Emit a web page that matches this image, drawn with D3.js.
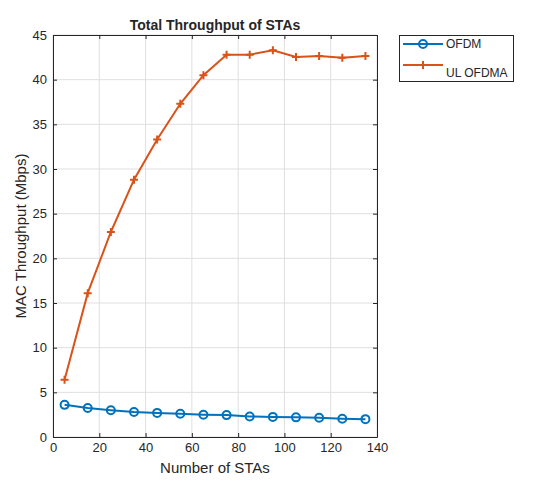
<!DOCTYPE html>
<html><head><meta charset="utf-8">
<script src="https://cdn.jsdelivr.net/npm/d3@7"></script>
<style>body{margin:0;background:#fff;font-family:Helvetica,Arial,"Liberation Sans",sans-serif}</style>
</head><body>
<svg id="chart" width="553" height="492"></svg>
<script>
var stas = [5, 15, 25, 35, 45, 55, 65, 75, 85, 95, 105, 115, 125, 135];
var ofdm = [3.6, 3.25, 3.0, 2.8, 2.7, 2.6, 2.5, 2.45, 2.3, 2.25, 2.2, 2.15, 2.05, 2.0];
var ulOfdma = [6.4, 16.1, 22.95, 28.8, 33.3, 37.3, 40.5, 42.8, 42.8, 43.3, 42.55, 42.65, 42.45, 42.65];
var xTicks = [0, 20, 40, 60, 80, 100, 120, 140];
var yTicks = [0, 5, 10, 15, 20, 25, 30, 35, 40, 45];

var svg = d3.select("#chart");
var pLeft = 53, pRight = 377, pTop = 35, pBottom = 437;
var x = d3.scaleLinear().domain([0, 140]).range([pLeft, pRight]);
var y = d3.scaleLinear().domain([0, 45]).range([pBottom, pTop]);

// grid
svg.append("g").selectAll("line").data(xTicks).enter().append("line")
    .attr("x1", d => x(d)).attr("x2", d => x(d)).attr("y1", pTop).attr("y2", pBottom)
    .attr("stroke", "#dfdfdf");
svg.append("g").selectAll("line").data(yTicks).enter().append("line")
    .attr("y1", d => y(d)).attr("y2", d => y(d)).attr("x1", pLeft).attr("x2", pRight)
    .attr("stroke", "#dfdfdf");

// axes
svg.append("g").attr("transform", "translate(0," + pBottom + ")")
    .call(d3.axisBottom(x).tickValues(xTicks).tickSizeInner(-4).tickSizeOuter(0).tickPadding(6));
svg.append("g").attr("transform", "translate(0," + pTop + ")")
    .call(d3.axisTop(x).tickValues(xTicks).tickSizeInner(-4).tickSizeOuter(0).tickFormat(""));
svg.append("g").attr("transform", "translate(" + pLeft + ",0)")
    .call(d3.axisLeft(y).tickValues(yTicks).tickSizeInner(-4).tickSizeOuter(0).tickPadding(6));
svg.append("g").attr("transform", "translate(" + pRight + ",0)")
    .call(d3.axisRight(y).tickValues(yTicks).tickSizeInner(-4).tickSizeOuter(0).tickFormat(""));
svg.selectAll(".domain, .tick line").attr("stroke", "#262626");
svg.selectAll(".tick text").attr("font-size", 13).attr("fill", "#262626").attr("font-family", "Helvetica,Arial,sans-serif");

var line = d3.line().x((d, i) => x(stas[i])).y(d => y(d));
var blue = "#0072BD", orange = "#D95319";

svg.append("path").datum(ofdm).attr("d", line).attr("fill", "none").attr("stroke", blue).attr("stroke-width", 2);
svg.append("g").selectAll("circle").data(ofdm).enter().append("circle")
    .attr("cx", (d, i) => x(stas[i])).attr("cy", d => y(d)).attr("r", 4)
    .attr("fill", "none").attr("stroke", blue).attr("stroke-width", 2);

svg.append("path").datum(ulOfdma).attr("d", line).attr("fill", "none").attr("stroke", orange).attr("stroke-width", 2);
svg.append("g").selectAll("path").data(ulOfdma).enter().append("path")
    .attr("d", "M-4,0H4M0,-4V4")
    .attr("transform", (d, i) => "translate(" + x(stas[i]) + "," + y(d) + ")")
    .attr("stroke", orange).attr("stroke-width", 2);

// labels
svg.append("text").attr("x", (pLeft + pRight) / 2).attr("y", 30).attr("text-anchor", "middle")
    .attr("font-size", 14).attr("font-weight", "bold").attr("fill", "#262626").text("Total Throughput of STAs");
svg.append("text").attr("x", (pLeft + pRight) / 2).attr("y", 473).attr("text-anchor", "middle")
    .attr("font-size", 15).attr("fill", "#262626").text("Number of STAs");
svg.append("text").attr("transform", "translate(26," + (pTop + pBottom) / 2 + ") rotate(-90)")
    .attr("text-anchor", "middle").attr("font-size", 15).attr("fill", "#262626").text("MAC Throughput (Mbps)");

// legend
var lg = svg.append("g");
lg.append("rect").attr("x", 399.5).attr("y", 35.5).attr("width", 114).attr("height", 46)
    .attr("fill", "#fff").attr("stroke", "#262626");
lg.append("line").attr("x1", 403).attr("x2", 443).attr("y1", 44).attr("y2", 44).attr("stroke", blue).attr("stroke-width", 2);
lg.append("circle").attr("cx", 423).attr("cy", 44).attr("r", 4).attr("fill", "none").attr("stroke", blue).attr("stroke-width", 2);
lg.append("text").attr("x", 446).attr("y", 48).attr("font-size", 12).attr("fill", "#262626").text("OFDM");
lg.append("line").attr("x1", 403).attr("x2", 443).attr("y1", 65).attr("y2", 65).attr("stroke", orange).attr("stroke-width", 2);
lg.append("path").attr("d", "M419,65H427M423,61V69").attr("stroke", orange).attr("stroke-width", 2);
lg.append("text").attr("x", 446).attr("y", 77).attr("font-size", 12).attr("fill", "#262626").text("UL OFDMA");
</script>
</body></html>
